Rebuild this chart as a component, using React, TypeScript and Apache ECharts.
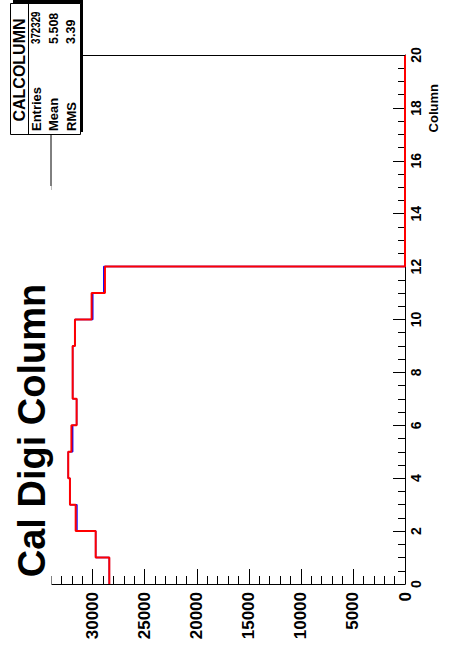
import React, { useEffect, useRef } from "react";
import * as echarts from "echarts";

// Histogram contents per column bin (bins 0..19)
const redCounts = [28400, 29710, 31630, 32180, 32345, 32040, 31540, 31920, 31920, 31700, 30100, 28820, 0, 0, 0, 0, 0, 0, 0, 0];
const blueCounts = [28400, 29710, 31510, 32180, 32345, 31920, 31540, 31920, 31920, 31700, 29990, 28930, 0, 0, 0, 0, 0, 0, 0, 0];
const columnEdges = [0, 1, 2, 3, 4, 5, 6, 7, 8, 9, 10, 11, 12, 13, 14, 15, 16, 17, 18, 19, 20];

const chartTitle = "Cal Digi Column";
const columnAxisTitle = "Column";
const statsName = "CALCOLUMN";
const statsLabels = ["Entries", "Mean", "RMS"];
const statsValues = ["372329", "5.508", "3.39"];

const FONT = "'Liberation Sans', Arial, Helvetica, sans-serif";

function stepPoints(counts: number[]): number[][] {
  const pts: number[][] = [];
  for (let i = 0; i < counts.length; i++) {
    pts.push([counts[i], columnEdges[i]]);
    pts.push([counts[i], columnEdges[i + 1]]);
  }
  return pts;
}

export default function App() {
  const ref = useRef<HTMLDivElement>(null);
  useEffect(() => {
    if (!ref.current) return;
    const chart = echarts.init(ref.current, null, { renderer: "svg" });
    const rowX = [36, 53.5, 71];
    const statsGraphics: any[] = [];
    statsLabels.forEach((lab, i) => {
      statsGraphics.push({
        type: "text",
        x: rowX[i],
        y: 131,
        rotation: Math.PI / 2,
        z: 103,
        style: { text: lab, font: `bold 13px ${FONT}`, fill: "#000", align: "left", verticalAlign: "middle" },
      });
      statsGraphics.push({
        type: "text",
        x: rowX[i],
        y: 44,
        rotation: Math.PI / 2,
        scaleX: i === 0 ? 0.78 : 1,
        z: 103,
        style: { text: statsValues[i], font: `bold 12.5px ${FONT}`, fill: "#000", align: "left", verticalAlign: "middle" },
      });
    });

    chart.setOption({
      animation: false,
      backgroundColor: "#fff",
      grid: { left: 40.6, right: 44, top: 55, bottom: 71 },
      xAxis: {
        type: "value",
        inverse: true,
        min: 0,
        max: 35000,
        interval: 5000,
        position: "bottom",
        splitLine: { show: false },
        axisLine: { show: true, onZero: false, lineStyle: { color: "#000", width: 1 } },
        axisTick: { show: true, inside: true, length: 15, lineStyle: { color: "#000", width: 1 } },
        minorTick: { show: true, splitNumber: 5, length: 8, lineStyle: { color: "#000", width: 1 } },
        axisLabel: {
          rotate: 90,
          margin: 8,
          fontSize: 17,
          fontWeight: "bold",
          fontFamily: FONT,
          color: "#000",
          showMaxLabel: false,
          formatter: (v: number) => String(v),
        },
      },
      yAxis: {
        type: "value",
        position: "right",
        min: 0,
        max: 20,
        interval: 2,
        splitLine: { show: false },
        axisLine: { show: true, onZero: false, lineStyle: { color: "#000", width: 1 } },
        axisTick: { show: true, inside: true, length: 12, lineStyle: { color: "#000", width: 1 } },
        minorTick: { show: true, splitNumber: 4, length: 7, lineStyle: { color: "#000", width: 1 } },
        axisLabel: {
          rotate: 90,
          margin: 4,
          fontSize: 14,
          fontWeight: "bold",
          fontFamily: FONT,
          color: "#000",
          formatter: (v: number) => String(v),
        },
      },
      series: [
        {
          type: "line",
          data: stepPoints(blueCounts),
          showSymbol: false,
          clip: false,
          lineStyle: { color: "#0000ff", width: 1.5 },
          z: 2,
        },
        {
          type: "line",
          data: stepPoints(redCounts),
          showSymbol: false,
          clip: false,
          lineStyle: { color: "#ff0000", width: 2 },
          z: 3,
        },
      ],
      graphic: [
        // frame top and left edges
        { type: "line", shape: { x1: 40, y1: 55.5, x2: 405, y2: 55.5 }, style: { stroke: "#000", lineWidth: 1 }, z: 50 },
        { type: "line", shape: { x1: 51, y1: 130, x2: 51, y2: 190 }, style: { stroke: "#000", lineWidth: 1 }, z: 50 },
        // title pave
        { type: "rect", shape: { x: 0, y: 186, width: 51.5, height: 420 }, style: { fill: "#fff" }, z: 100 },
        {
          type: "text",
          x: 32,
          y: 430.5,
          rotation: Math.PI / 2,
          z: 101,
          style: { text: chartTitle, font: `bold 38px ${FONT}`, fill: "#000", align: "center", verticalAlign: "middle" },
        },
        // axis title
        {
          type: "text",
          x: 433,
          y: 84,
          rotation: Math.PI / 2,
          z: 101,
          style: { text: columnAxisTitle, font: `bold 13px ${FONT}`, fill: "#000", align: "right", verticalAlign: "middle" },
        },
        // stats box
        { type: "rect", shape: { x: 13, y: 0, width: 70, height: 132 }, style: { fill: "#000" }, z: 100 },
        { type: "rect", shape: { x: 10.5, y: 3.5, width: 70, height: 131 }, style: { fill: "#fff", stroke: "#000", lineWidth: 1 }, z: 101 },
        { type: "line", shape: { x1: 28.5, y1: 3.5, x2: 28.5, y2: 134.5 }, style: { stroke: "#000", lineWidth: 1 }, z: 102 },
        {
          type: "text",
          x: 19.5,
          y: 70,
          rotation: Math.PI / 2,
          z: 103,
          style: { text: statsName, font: `bold 16px ${FONT}`, fill: "#000", align: "center", verticalAlign: "middle" },
        },
        ...statsGraphics,
      ],
    });
    return () => chart.dispose();
  }, []);
  return <div ref={ref} style={{ position: "fixed", left: 0, top: 0, width: 449, height: 655 }} />;
}
